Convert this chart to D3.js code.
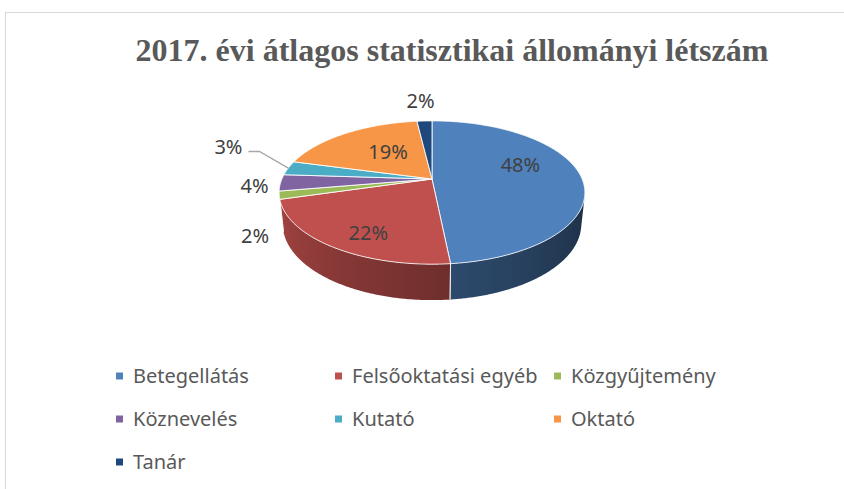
<!DOCTYPE html>
<html>
<head>
<meta charset="utf-8">
<title>2017. évi átlagos statisztikai állományi létszám</title>
<style>
  html, body { margin: 0; background: #fff; }
  svg { display: block; }
  .title { font-family: "Liberation Serif", "Times New Roman", serif; font-weight: bold; font-size: 32px; fill: #595959; }
  .pct { font-family: "Noto Sans", sans-serif; font-size: 20px; fill: #404040; }
  .legend text { font-family: "Noto Sans", sans-serif; font-size: 20px; fill: #595959; }
</style>
</head>
<body>
<div id="chart"></div>
<script src="https://cdn.jsdelivr.net/npm/d3@7/dist/d3.min.js"></script>
<script>
// data (share of headcount, %)
const categories = ["Betegellátás", "Felsőoktatási egyéb", "Közgyűjtemény", "Köznevelés", "Kutató", "Oktató", "Tanár"]
const shares = [48.4, 22.1, 1.8, 3.7, 3.2, 18.9, 1.9]
const colors = ["#4f81bd", "#c0504d", "#9bbb59", "#8064a2", "#4bacc6", "#f79646", "#1f497d"]
const title = "2017. évi átlagos statisztikai állományi létszám"

// label styling (radius on the disc, anchor, small nudge, leader line)
const labelR = [0.62, 0.62, 1.15, 1.15, 1.15, 0.62, 1.15]
const labelAnchor = ["middle", "middle", "end", "end", "end", "middle", "middle"]
const labelNudge = [[-4, -12], [-6, 15], [14, 38], [11, 3], [-25, -20], [12, 3], [-3, -13]]
const labelLeader = [false, false, false, false, true, false, false]

const width = 844, height = 489

// perspective view of the disc
const view = { cx: 432, cy: 179, f: 705.6, D: 4.70, tilt: 27.4 * Math.PI / 180, depth: 0.24 }

function project(a, r, z) {
	const X = r * Math.sin(a), Y = r * Math.cos(a)
	const yc = Y * Math.sin(view.tilt) + z * Math.cos(view.tilt)
	const d = view.D + Y * Math.cos(view.tilt) - z * Math.sin(view.tilt)
	return [view.cx + view.f * X / d, view.cy - view.f * yc / d]
}

const svg = d3.select("#chart").append("svg")
	.attr("width", width)
	.attr("height", height)
const defs = svg.append("defs")

// chart area border (only left and top show in the frame)
svg.append("rect")
	.attr("x", 5.5).attr("y", 12.5)
	.attr("width", 1000).attr("height", 600)
	.attr("fill", "none")
	.attr("stroke", "#d9d9d9")

svg.append("text")
	.attr("class", "title")
	.attr("x", 452).attr("y", 61)
	.attr("text-anchor", "middle")
	.text(title)

const color = d3.scaleOrdinal().domain(categories).range(colors)
const total = d3.sum(shares)

const pie = d3.pie().sort(null).value(d => d.value)
const arcs = pie(categories.map((c, i) => ({ name: c, value: shares[i] })))

const deg = Math.PI / 180
const visLo = Math.acos(-1 / (view.D * Math.cos(view.tilt)))
const visHi = 2 * Math.PI - visLo

// side shading: darker on the right, lighter on the left
const shade = d3.scaleLinear().domain([104, 173, 256]).range([0.36, 0.57, 0.86]).clamp(true)

function arcPoints(a0, a1, z) {
	const n = Math.max(2, Math.ceil((a1 - a0) / (0.5 * deg)))
	return d3.range(n + 1).map(k => project(a0 + k * (a1 - a0) / n, 1, z))
}

const rim = svg.append("g")
arcs.forEach((a, i) => {
	const lo = Math.max(a.startAngle, visLo), hi = Math.min(a.endAngle, visHi)
	if (lo >= hi) return
	const x1 = project(lo, 1, 0)[0], x2 = project(hi, 1, 0)[0]
	const grad = defs.append("linearGradient")
		.attr("id", "side" + i)
		.attr("gradientUnits", "userSpaceOnUse")
		.attr("x1", x1).attr("y1", 0).attr("x2", x2).attr("y2", 0)
	d3.range(9).forEach(k => {
		const t = lo + k * (hi - lo) / 8
		const x = project(t, 1, 0)[0]
		grad.append("stop")
			.attr("offset", x2 === x1 ? 0 : (x - x1) / (x2 - x1))
			.attr("stop-color", d3.interpolateRgb("#000", color(a.data.name))(shade(t / deg)))
	})
	const top = arcPoints(lo, hi, 0), bottom = arcPoints(lo, hi, -view.depth).reverse()
	rim.append("path")
		.attr("d", "M" + top.concat(bottom).join("L") + "Z")
		.attr("fill", "url(#side" + i + ")")
})

// seams between slices on the side
arcs.forEach(a => {
	[a.startAngle, a.endAngle].forEach(t => {
		if (t > visLo && t < visHi) {
			const p = project(t, 1, 0), q = project(t, 1, -view.depth)
			rim.append("line")
				.attr("x1", p[0]).attr("y1", p[1])
				.attr("x2", q[0]).attr("y2", q[1])
				.attr("stroke", "#fff").attr("stroke-opacity", 0.7).attr("stroke-width", 1)
		}
	})
})

// top faces
svg.append("g").selectAll("path")
	.data(arcs)
	.join("path")
	.attr("d", a => "M" + [project(0, 0, 0)].concat(arcPoints(a.startAngle, a.endAngle, 0)).join("L") + "Z")
	.attr("fill", a => color(a.data.name))
	.attr("stroke", "#fff")
	.attr("stroke-opacity", 0.85)
	.attr("stroke-width", 1)
	.attr("stroke-linejoin", "round")

// data labels
const labels = svg.append("g")
arcs.forEach((a, i) => {
	const mid = (a.startAngle + a.endAngle) / 2
	const p = project(mid, labelR[i], 0)
	const x = p[0] + labelNudge[i][0], y = p[1] + labelNudge[i][1]
	labels.append("text")
		.attr("class", "pct")
		.attr("x", x).attr("y", y)
		.attr("dy", "0.35em")
		.attr("text-anchor", labelAnchor[i])
		.text(d3.format(".0f")(a.data.value / total * 100) + "%")
	if (labelLeader[i]) {
		const e = project(mid, 1, 0)
		labels.append("path")
			.attr("d", "M" + [[x + 6, y + 5], [x + 17, y + 5], e].join("L"))
			.attr("fill", "none")
			.attr("stroke", "#a6a6a6")
			.attr("stroke-width", 1.3)
	}
})

// legend
const legend = svg.append("g").attr("class", "legend")
	.selectAll("g")
	.data(categories)
	.join("g")
	.attr("transform", (d, i) => "translate(" + (116 + (i % 3) * 219) + "," + (376 + Math.floor(i / 3) * 43) + ")")

legend.append("rect")
	.attr("x", 0).attr("y", -3.5)
	.attr("width", 7).attr("height", 7)
	.attr("fill", d => color(d))

legend.append("text")
	.attr("x", 17)
	.attr("dy", "0.35em")
	.text(d => d)
</script>
</body>
</html>
